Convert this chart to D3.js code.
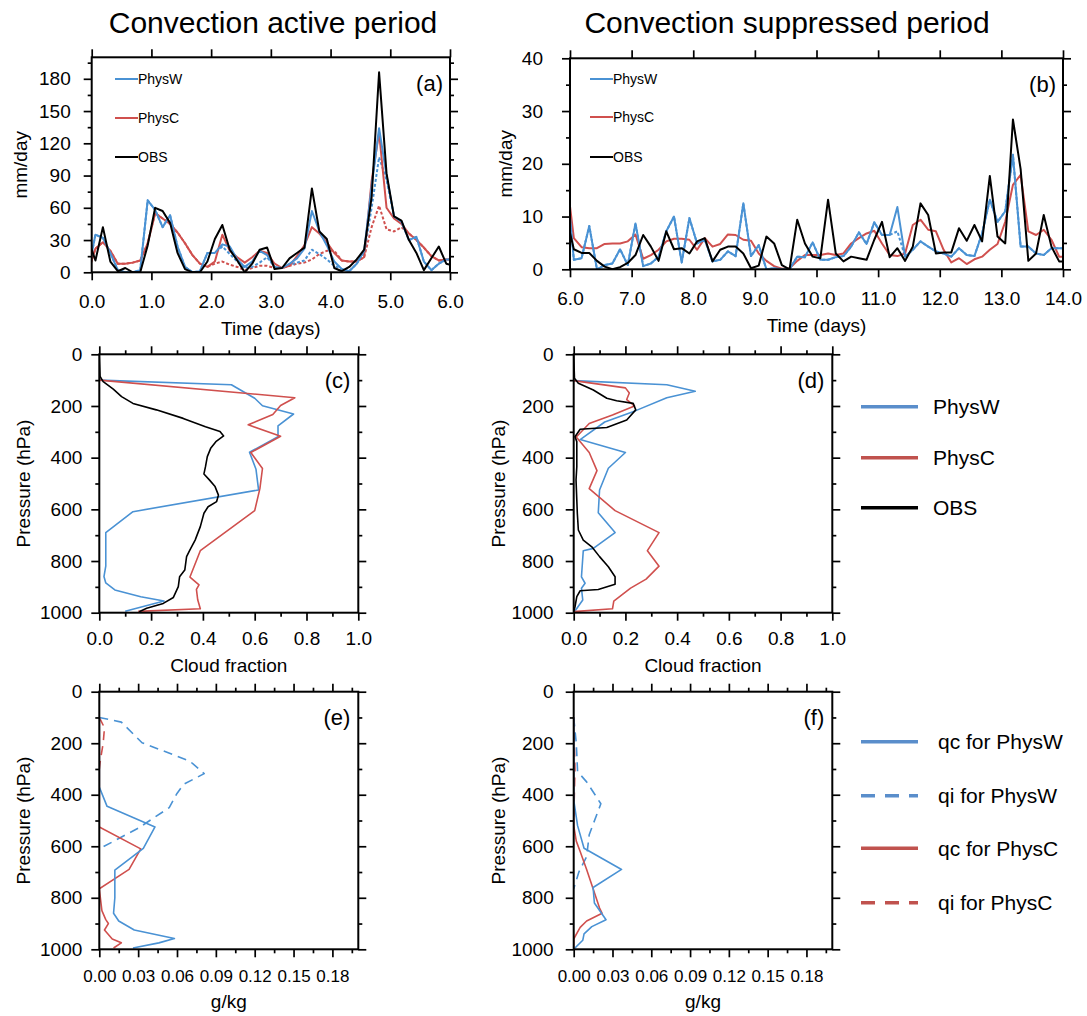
<!DOCTYPE html>
<html><head><meta charset="utf-8">
<script src="https://cdn.jsdelivr.net/npm/d3@7"></script>
<style>body{margin:0;background:#fff}</style>
</head><body>
<svg id="chart" width="1087" height="1016"></svg>
<script>
// ---------------- DATA ----------------
// Time series: 3-hourly values, centered at start - 0.0625 + 0.125*i (days); first/last points sit just outside the axis range
const stepDays = 0.125;
const aStart = 0, aEnd = 6;
const bStart = 6, bEnd = 14;
const aOBS   = [31,11,42,10,1,4,0,0,25,60,57,46,18,3,0,0,10,31,44,21,11,0,8,21,23,3,4,13,18,23,78,38,31,4,1,5,12,21,70,186,92,52,48,30,18,2,13,24,8,6];
const aPhysW = [0,35,32,18,2,0,0,2,67,58,42,53,24,5,0,1,18,18,26,24,12,5,10,20,16,5,4,8,13,22,57,38,25,10,3,1,8,20,80,134,90,52,47,30,33,10,2,8,12,12];
const aPhysC = [0,22,28,20,8,8,9,11,27,55,50,45,37,27,16,8,5,10,35,20,14,9,14,20,18,8,4,6,15,25,42,36,28,18,11,10,10,14,85,130,60,50,45,36,30,23,15,11,12,12];
const aPhysWdash = [0,35,32,18,2,0,0,2,67,58,42,53,24,5,0,1,18,18,24,17,10,4,5,9,14,5,4,7,9,11,21,17,12,6,3,1,8,18,60,107,86,52,47,30,33,10,2,8,12,12];
const aPhysCdash = [0,22,28,20,8,8,9,11,27,55,50,45,37,27,16,8,5,8,10,7,5,2,4,6,6,4,4,6,8,9,12,17,20,20,11,10,10,14,42,62,40,38,42,36,30,23,15,11,12,12];

const bOBS   = [10,3.8,3.1,3.1,1.6,0.5,0,0.4,1.2,2.7,6.5,4.3,1.6,7.2,3.8,4,3,5.3,5.9,1.5,3.7,4.3,4.3,3,0.2,0.7,6.2,4.9,0.8,0,9.4,4.9,2.4,2.1,13.2,3,1.5,2.4,2.1,1.8,5.6,9,2.3,4,1.6,4.3,12.5,10.3,3,3.2,3.2,7.8,5.4,8.4,5.3,17.7,6.2,4.9,28.4,19,1.6,3,10.3,4.3,1.5,1.5];
const bPhysW = [18,1.8,2.1,8.2,0,0.8,1.1,3.8,0.8,8.7,0.6,1.1,2.4,7.2,10,1.3,9.7,4.9,5.6,1.5,1.8,3.4,2.5,12.5,2.5,4.6,0,0.2,0,0,2.4,2.3,5.1,1.8,1.8,2.3,2.5,4.3,7,4.8,8.9,6.5,6.5,11.8,2.4,3.7,5.3,4.3,3.4,3,2.4,4,2.7,2.5,6.8,13.2,9,11,21.7,4.3,4.3,3,2.7,4,4,4];
const bPhysWdash = [18,1.8,2.1,8.2,0,0.8,1.1,3.8,0.8,8.7,0.6,1.1,2.4,7.2,10,1.3,9.7,4.9,5.6,1.5,1.8,3.4,2.5,12.5,2.5,4.6,0,0.2,0,0,2.4,2.3,5.1,1.8,1.8,2.3,2.5,4.3,7,4.8,8.9,6.5,6.5,7.2,2.4,3.7,5.3,4.3,3.4,3,2.4,4,2.7,2.5,6.8,13.2,9,11,21.7,4.3,4.3,3,2.7,4,4,4];
const bPhysC = [18,5.9,4.2,4,4,4.8,4.9,4.9,5.3,6.6,2,2.7,3.7,5.3,5.8,5.8,5.6,3.7,5.9,4.3,4.8,6.6,6.5,5.6,5.4,3,1.6,0.6,0.1,0.2,1.6,2.7,2.7,2.7,3,2.7,3,4.9,5.9,6.8,7.3,4.9,2.7,2.5,3,8.4,9.4,7.5,7.2,3.7,1.3,2.1,1,1.9,2.4,3.7,4.8,9,16,17.9,7.2,6.5,7.5,5.6,2.4,2.4];

// Cloud fraction profiles [cloud fraction, pressure hPa]
const cPhysW = [[0,100],[0.51,118],[0.6,170],[0.63,199],[0.75,231],[0.69,277],[0.69,319],[0.58,379],[0.605,445],[0.615,525],[0.13,609],[0.025,690],[0.025,820],[0.018,860],[0.025,885],[0.06,912],[0.16,938],[0.25,955],[0.1,994]];
const cPhysC = [[0,100],[0.755,168],[0.7,198],[0.67,233],[0.575,273],[0.7,317],[0.585,380],[0.63,442],[0.62,520],[0.6,605],[0.39,760],[0.35,862],[0.385,892],[0.375,910],[0.38,950],[0.39,985],[0.15,995]];
const cOBS   = [[0,0],[0.003,86],[0.015,106],[0.054,135],[0.086,164],[0.13,190],[0.22,215],[0.324,248],[0.41,280],[0.466,299],[0.48,316],[0.45,338],[0.43,364],[0.417,396],[0.41,435],[0.404,463],[0.425,486],[0.447,512],[0.46,545],[0.453,570],[0.42,590],[0.404,615],[0.39,667],[0.37,719],[0.35,757],[0.337,783],[0.33,835],[0.31,861],[0.305,899],[0.286,941],[0.247,964],[0.183,983],[0.154,996]];
const dPhysW = [[0,102],[0.36,118],[0.47,143],[0.36,168],[0.24,218],[0.12,262],[0.025,330],[0.2,380],[0.134,441],[0.1,525],[0.095,613],[0.16,690],[0.076,751],[0.037,760],[0.03,861],[0.044,886],[0.03,905],[0.035,951],[0.003,996]];
const dPhysC = [[0,102],[0.2,130],[0.215,150],[0.205,175],[0.235,200],[0.15,235],[0.06,268],[0.01,320],[0.06,380],[0.09,450],[0.06,520],[0.16,605],[0.33,690],[0.285,760],[0.33,820],[0.28,870],[0.22,905],[0.155,955],[0.15,985],[0,996]];
const dOBS   = [[0,0],[0.003,93],[0.018,112],[0.076,138],[0.128,170],[0.166,180],[0.23,190],[0.24,215],[0.205,254],[0.128,283],[0.025,290],[0.005,319],[0.012,338],[0.012,435],[0.009,486],[0.014,615],[0.018,680],[0.037,719],[0.07,745],[0.1,783],[0.134,822],[0.16,861],[0.16,890],[0.095,910],[0.025,915],[0.012,938],[0.005,977],[0,996]];

// Mixing ratio profiles [g/kg, pressure hPa]
const eQcW = [[0,100],[0,370],[0.006,445],[0.043,525],[0.034,608],[0.012,693],[0.012,800],[0.011,860],[0.015,890],[0.027,925],[0.058,958],[0.046,975],[0.026,995]];
const eQiW = [[0,100],[0.017,118],[0.033,198],[0.07,270],[0.081,318],[0.065,360],[0.06,395],[0.054,450],[0.03,530],[0,610]];
const eQcC = [[0,100],[0,525],[0.032,610],[0.023,690],[0,765],[0.002,850],[0.005,885],[0.007,900],[0.004,925],[0.01,960],[0.017,975],[0.011,995]];
const eQiC = [[0,100],[0.004,140],[0.003,200],[0.001,260],[0,300]];
const fQcW = [[0,100],[0,420],[0.003,520],[0.008,608],[0.037,690],[0.015,760],[0.016,820],[0.025,885],[0.014,912],[0.008,940],[0.007,965],[0,1000]];
const fQiW = [[0,100],[0.002,200],[0.003,310],[0.01,350],[0.021,435],[0.012,555],[0.01,640],[0.004,700],[0,765]];
const fQcC = [[0,100],[0,520],[0.002,580],[0.005,620],[0.01,690],[0.015,765],[0.02,840],[0.022,860],[0.01,890],[0.005,915],[0,960],[0,1000]];
const fQiC = [[0,100],[0.001,300],[0,500]];

// Ticks
const aXTicks = [0,1,2,3,4,5,6];
const bXTicks = [6,7,8,9,10,11,12,13,14];
const aYTicks = [0,30,60,90,120,150,180];
const aYMinor = [15,45,75,105,135,165,195];
const bYTicks = [0,10,20,30,40];
const bYMinor = [5,15,25,35];
const pTicks = [0,200,400,600,800,1000];
const pMinor = [100,300,500,700,900];
const cfTicks = [0,0.2,0.4,0.6,0.8,1.0];
const cfMinor = [0.1,0.3,0.5,0.7,0.9];
const qTicks = [0,0.03,0.06,0.09,0.12,0.15,0.18];
const qMinor = [0.015,0.045,0.075,0.105,0.135,0.165,0.195];

const seriesNames = ["PhysW","PhysC","OBS"];
const legend2Names = ["qc for PhysW","qi for PhysW","qc for PhysC","qi for PhysC"];

// ---------------- STYLE ----------------
const FONT = '"Liberation Sans", Arial, Helvetica, sans-serif';
const BLUE = "#4a92d4", RED = "#d0504e", BLACK = "#000";
const LBLUE = "#5a8ecb", LRED = "#c0524e";

const svg = d3.select("#chart");
let clipId = 0;

function drawAxes(g, x, y, o) {
  const [x0, x1] = x.range();
  const yr = y.range();
  const top = Math.min(...yr), bot = Math.max(...yr);
  function ax(gen, tr, vals, size, fmt, pad, fs) {
    const a = g.append("g").attr("transform", tr)
      .call(gen.tickValues(vals).tickSize(size).tickSizeOuter(0).tickPadding(pad).tickFormat(fmt));
    a.select(".domain").remove();
    a.attr("font-family", FONT).attr("font-size", fs);
    a.selectAll("line").attr("stroke", "#000").attr("stroke-width", 1.7);
    a.selectAll("text").attr("fill", "#000");
    return a;
  }
  const none = () => "";
  ax(d3.axisBottom(x), `translate(0,${bot})`, o.xMajor, 8, o.xFmt, o.xPad, o.xFs || 19);
  ax(d3.axisBottom(x), `translate(0,${bot})`, o.xMinor || [], 4, none, 0, 10);
  ax(d3.axisTop(x), `translate(0,${top})`, o.xMajor, 8, none, 0, 10);
  ax(d3.axisTop(x), `translate(0,${top})`, o.xMinor || [], 4, none, 0, 10);
  ax(d3.axisLeft(y), `translate(${x0},0)`, o.yMajor, 8, o.yFmt, o.yPad, 19);
  ax(d3.axisLeft(y), `translate(${x0},0)`, o.yMinor || [], 4, none, 0, 10);
  ax(d3.axisRight(y), `translate(${x1},0)`, o.yMajor, 8, none, 0, 10);
  ax(d3.axisRight(y), `translate(${x1},0)`, o.yMinor || [], 4, none, 0, 10);
  g.append("rect").attr("x", x0).attr("y", top).attr("width", x1 - x0).attr("height", bot - top)
    .attr("fill", "none").attr("stroke", "#000").attr("stroke-width", 2);
  // axis titles
  g.append("text").attr("x", (x0 + x1) / 2).attr("y", o.xTitleY).attr("text-anchor", "middle")
    .attr("font-family", FONT).attr("font-size", 19).text(o.xTitle);
  g.append("text").attr("transform", `translate(${o.yTitleX},${(top + bot) / 2}) rotate(-90)`)
    .attr("text-anchor", "middle").attr("dy", "0.35em")
    .attr("font-family", FONT).attr("font-size", 19).text(o.yTitle);
  // panel tag
  g.append("text").attr("x", x1 - o.tagDx).attr("y", top + o.tagDy).attr("text-anchor", "end")
    .attr("dy", "0.35em").attr("font-family", FONT).attr("font-size", 22).text(o.tag);
}

function clipFor(g, x, y) {
  const id = "clip" + (clipId++);
  const [x0, x1] = x.range(); const yr = y.range();
  g.append("clipPath").attr("id", id).append("rect")
    .attr("x", x0).attr("y", Math.min(...yr)).attr("width", x1 - x0).attr("height", Math.abs(yr[1] - yr[0]));
  return g.append("g").attr("clip-path", `url(#${id})`);
}

function timePanel(o) {
  const g = svg.append("g");
  const x = d3.scaleLinear().domain([o.t0, o.t1]).range([o.left, o.right]);
  const y = d3.scaleLinear().domain([0, o.ymax]).range([o.bottom, o.top]);
  const plot = clipFor(g, x, y);
  const tOf = i => o.t0 - stepDays / 2 + stepDays * i;
  const line = d3.line().x((d, i) => x(tOf(i))).y(d => y(d));
  o.series.forEach(s => {
    plot.append("path").datum(s.values).attr("d", line).attr("fill", "none")
      .attr("stroke", s.color).attr("stroke-width", s.width || 2)
      .attr("stroke-dasharray", s.dash || null).attr("stroke-linejoin", "round");
  });
  drawAxes(g, x, y, {
    xMajor: o.xTicks, xFmt: d3.format(".1f"), xPad: 14,
    yMajor: o.yTicks, yMinor: o.yMinor, yFmt: d3.format("d"), yPad: o.yPad,
    xTitle: "Time (days)", xTitleY: o.bottom + 63, yTitle: "mm/day", yTitleX: o.yTitleX,
    tag: o.tag, tagDx: 7, tagDy: 26
  });
  // inner legend
  const cols = [BLUE, RED, BLACK];
  seriesNames.forEach((n, i) => {
    const ly = o.legY[i];
    g.append("line").attr("x1", o.legX).attr("x2", o.legX + 23).attr("y1", ly).attr("y2", ly)
      .attr("stroke", cols[i]).attr("stroke-width", 2);
    g.append("text").attr("x", o.legX + 23).attr("y", ly).attr("dy", "0.35em")
      .attr("font-family", FONT).attr("font-size", 14).text(n);
  });
}

function profilePanel(o) {
  const g = svg.append("g");
  const x = d3.scaleLinear().domain([0, o.xmax]).range([o.left, o.right]);
  const y = d3.scaleLinear().domain([0, 1000]).range([o.top, o.bottom]);
  const plot = clipFor(g, x, y);
  const line = d3.line().x(d => x(d[0])).y(d => y(d[1]));
  o.series.forEach(s => {
    plot.append("path").datum(s.values).attr("d", line).attr("fill", "none")
      .attr("stroke", s.color).attr("stroke-width", s.width || 1.6)
      .attr("stroke-dasharray", s.dash || null).attr("stroke-linejoin", "round");
  });
  drawAxes(g, x, y, {
    xMajor: o.xTicks, xMinor: o.xMinor, xFmt: o.xFmt, xPad: o.xPad, xFs: o.xFs,
    yMajor: pTicks, yMinor: pMinor, yFmt: d3.format("d"), yPad: o.yPad,
    xTitle: o.xTitle, xTitleY: o.bottom + o.xTitleDy, yTitle: "Pressure (hPa)", yTitleX: o.yTitleX,
    tag: o.tag, tagDx: 8, tagDy: 26
  });
}

// ---------------- TITLES ----------------
svg.append("text").attr("x", 273).attr("y", 33).attr("text-anchor", "middle")
  .attr("font-family", FONT).attr("font-size", 30).text("Convection active period");
svg.append("text").attr("x", 787).attr("y", 33).attr("text-anchor", "middle")
  .attr("font-family", FONT).attr("font-size", 30).text("Convection suppressed period");

// ---------------- PANELS ----------------
timePanel({
  t0: aStart, t1: aEnd, left: 91.7, right: 450, top: 57.3, bottom: 272.3, ymax: 200,
  xTicks: aXTicks, yTicks: aYTicks, yMinor: aYMinor, yPad: 13, yTitleX: 20, tag: "(a)",
  legX: 115, legY: [79, 118, 157],
  series: [
    { values: aPhysCdash, color: RED, dash: "3,2" },
    { values: aPhysWdash, color: BLUE, dash: "3,2" },
    { values: aPhysC, color: RED },
    { values: aPhysW, color: BLUE },
    { values: aOBS, color: BLACK }
  ]
});
timePanel({
  t0: bStart, t1: bEnd, left: 570, right: 1063, top: 58.3, bottom: 269.3, ymax: 40,
  xTicks: bXTicks, yTicks: bYTicks, yMinor: bYMinor, yPad: 19, yTitleX: 505, tag: "(b)",
  legX: 590, legY: [79, 117, 157],
  series: [
    { values: bPhysWdash, color: BLUE, dash: "3,2" },
    { values: bPhysC, color: RED },
    { values: bPhysW, color: BLUE },
    { values: bOBS, color: BLACK }
  ]
});

profilePanel({
  left: 99.3, right: 358.3, top: 354.3, bottom: 612.7, xmax: 1.0,
  xTicks: cfTicks, xMinor: cfMinor, xFmt: d3.format(".1f"), xPad: 11, yPad: 9,
  xTitle: "Cloud fraction", xTitleDy: 59, yTitleX: 23, tag: "(c)",
  series: [
    { values: cPhysW, color: BLUE }, { values: cPhysC, color: RED }, { values: cOBS, color: BLACK }
  ]
});
profilePanel({
  left: 573.7, right: 832.3, top: 354.3, bottom: 612.7, xmax: 1.0,
  xTicks: cfTicks, xMinor: cfMinor, xFmt: d3.format(".1f"), xPad: 11, yPad: 12,
  xTitle: "Cloud fraction", xTitleDy: 59, yTitleX: 498, tag: "(d)",
  series: [
    { values: dPhysW, color: BLUE }, { values: dPhysC, color: RED }, { values: dOBS, color: BLACK }
  ]
});
profilePanel({
  left: 99.3, right: 358.3, top: 691.7, bottom: 949.3, xmax: 0.2,
  xTicks: qTicks, xMinor: qMinor, xFmt: d3.format(".2f"), xPad: 13, xFs: 17, yPad: 9,
  xTitle: "g/kg", xTitleDy: 59, yTitleX: 23, tag: "(e)",
  series: [
    { values: eQiC, color: RED, dash: "9,6" }, { values: eQiW, color: BLUE, dash: "9,6" },
    { values: eQcC, color: RED }, { values: eQcW, color: BLUE }
  ]
});
profilePanel({
  left: 573.7, right: 832.3, top: 691.7, bottom: 949.3, xmax: 0.2,
  xTicks: qTicks, xMinor: qMinor, xFmt: d3.format(".2f"), xPad: 13, xFs: 17, yPad: 12,
  xTitle: "g/kg", xTitleDy: 59, yTitleX: 498, tag: "(f)",
  series: [
    { values: fQiC, color: RED, dash: "9,6" }, { values: fQiW, color: BLUE, dash: "9,6" },
    { values: fQcC, color: RED }, { values: fQcW, color: BLUE }
  ]
});

// ---------------- RIGHT LEGENDS ----------------
const leg1 = [[LBLUE, null], [LRED, null], [BLACK, null]];
const leg1Y = [406.7, 457.7, 507.7];
seriesNames.forEach((n, i) => {
  svg.append("line").attr("x1", 861).attr("x2", 918).attr("y1", leg1Y[i]).attr("y2", leg1Y[i])
    .attr("stroke", leg1[i][0]).attr("stroke-width", 3.4);
  svg.append("text").attr("x", 933).attr("y", leg1Y[i]).attr("dy", "0.35em")
    .attr("font-family", FONT).attr("font-size", 21).text(n);
});
const leg2 = [[LBLUE, null], [LBLUE, "14,10"], [LRED, null], [LRED, "14,10"]];
const leg2Y = [741.7, 795.7, 848.3, 902.7];
legend2Names.forEach((n, i) => {
  svg.append("line").attr("x1", 861).attr("x2", 918).attr("y1", leg2Y[i]).attr("y2", leg2Y[i])
    .attr("stroke", leg2[i][0]).attr("stroke-width", 3.4).attr("stroke-dasharray", leg2[i][1]);
  svg.append("text").attr("x", 938).attr("y", leg2Y[i]).attr("dy", "0.35em")
    .attr("font-family", FONT).attr("font-size", 21).text(n);
});
</script>
</body></html>
